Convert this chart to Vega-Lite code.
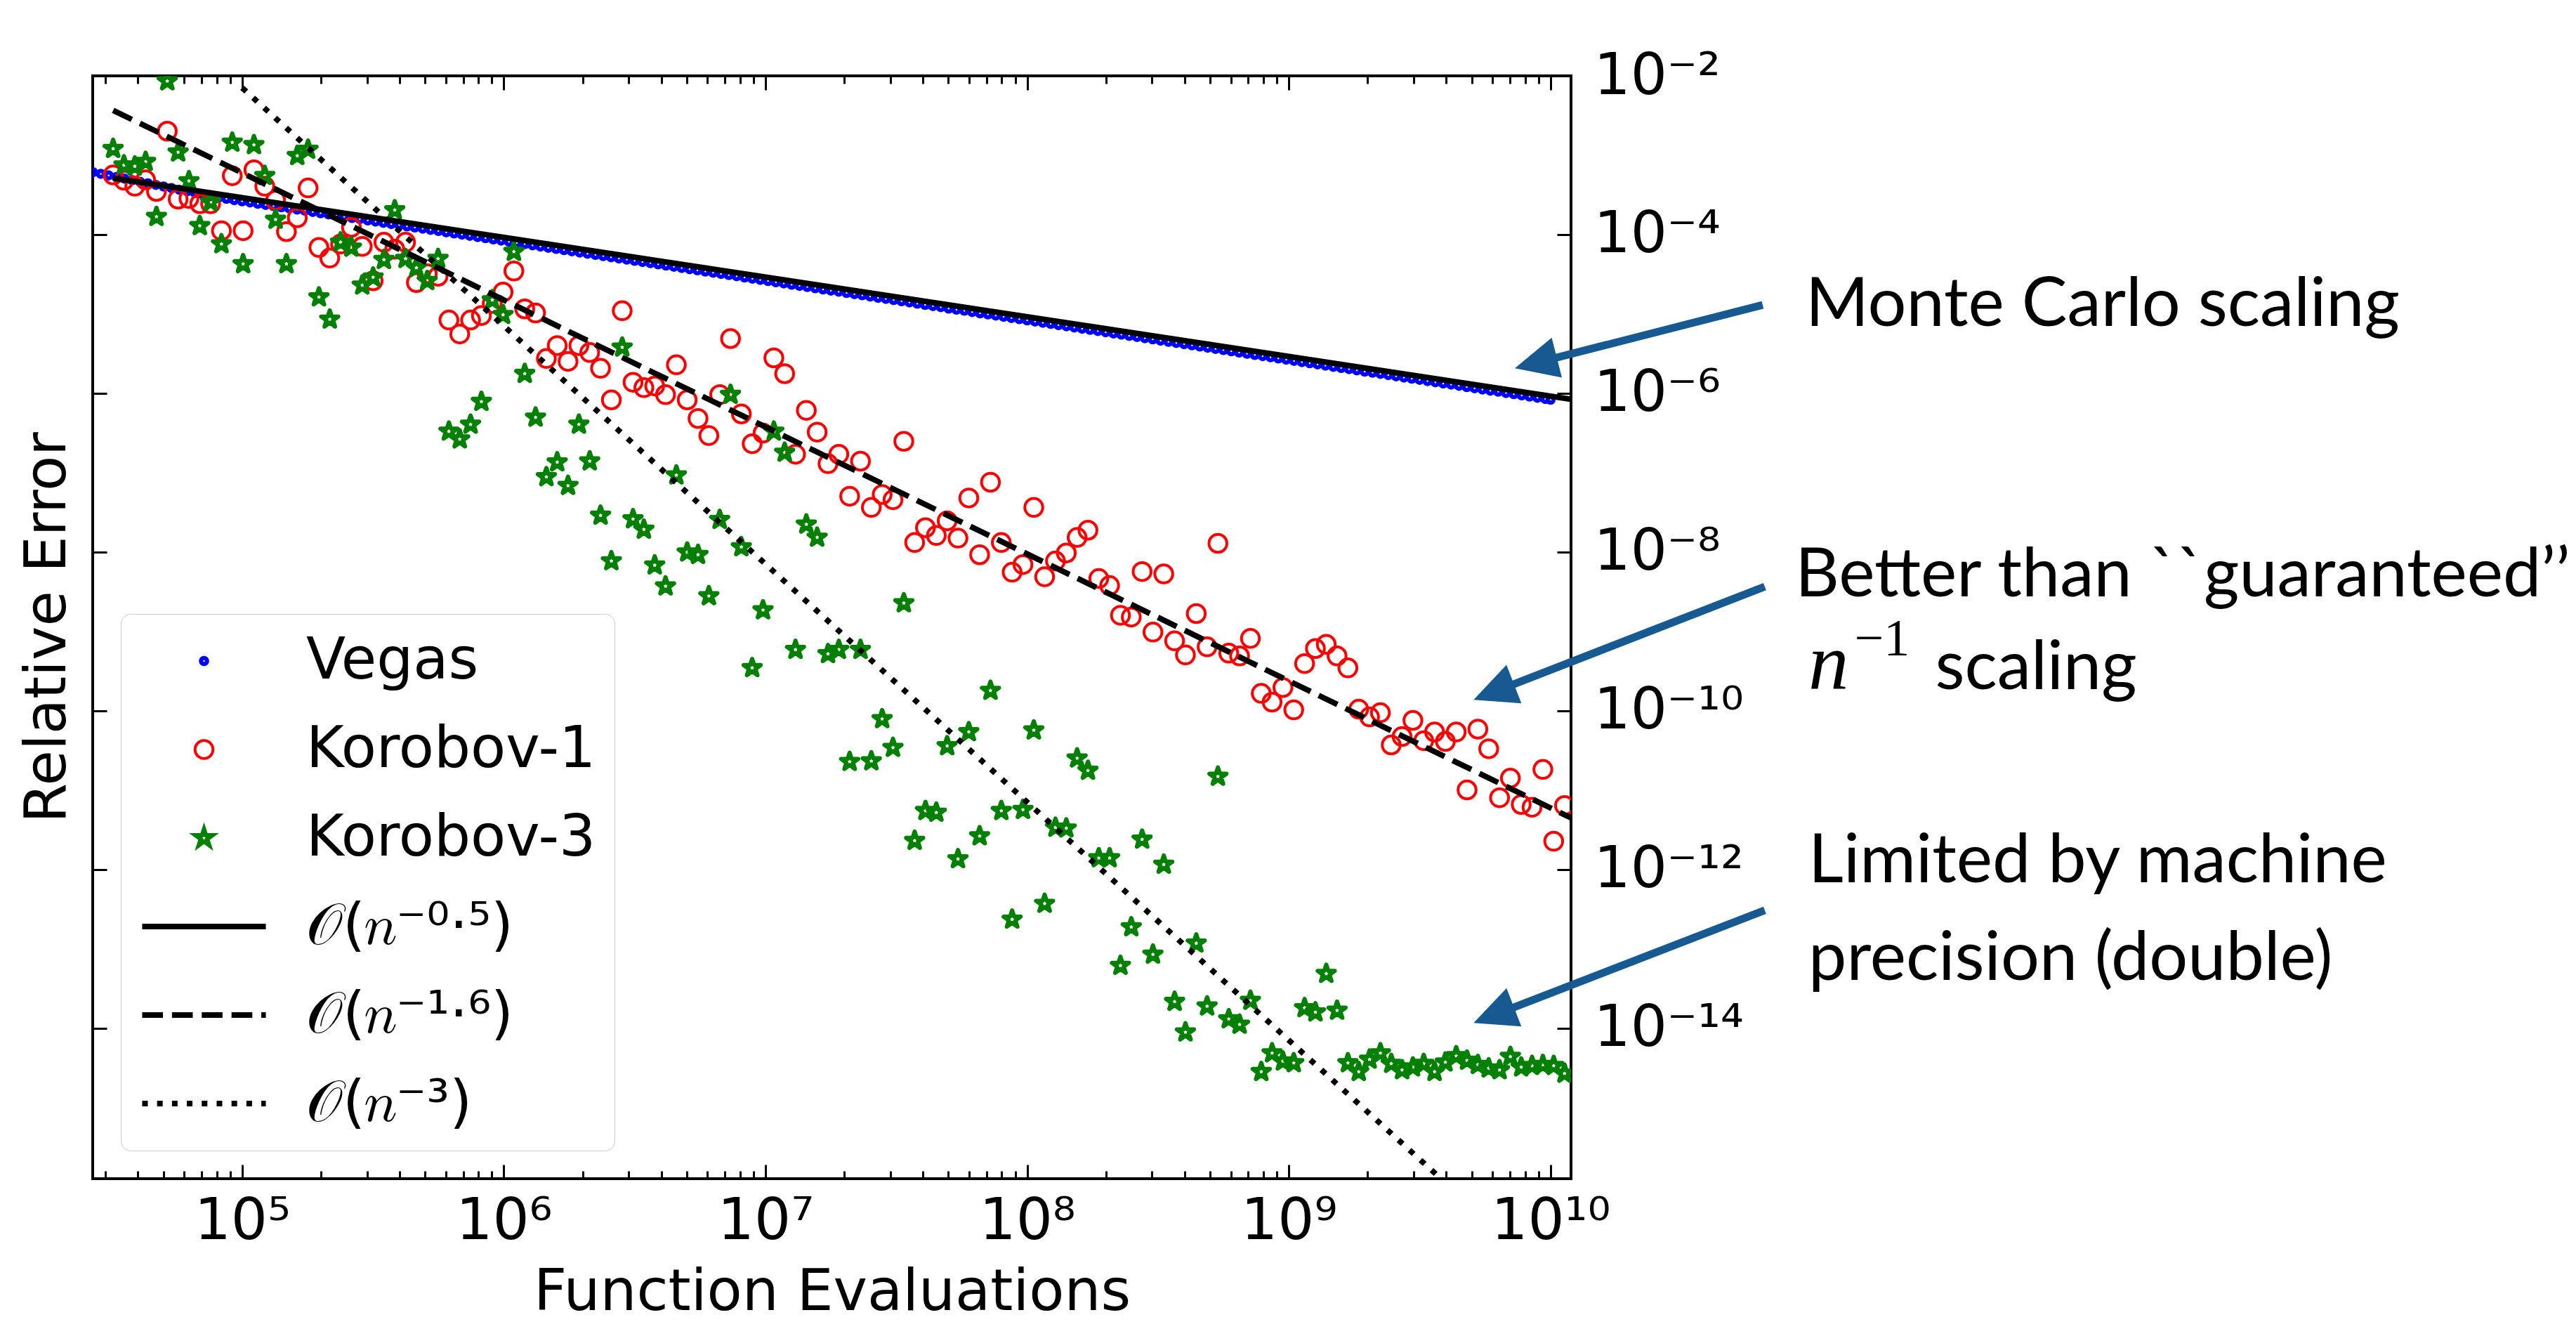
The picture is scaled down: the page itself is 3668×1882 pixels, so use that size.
{
"$schema":"https://vega.github.io/schema/vega-lite/v6.json",
"width":2105,"height":1570,
"autosize":{"type":"none"},
"padding":{"left":132,"top":108,"right":1431,"bottom":204},
"background":"white",
"config":{
 "view":{"stroke":"black","strokeWidth":4},
 "font":"DejaVu Sans",
 "axis":{"domain":false,"grid":false,"tickColor":"black","tickWidth":3,"labelFont":"DejaVu Sans","labelFontSize":82,"labelColor":"black","labelLimit":2000,"titleFont":"DejaVu Sans","titleFontSize":82,"titleFontWeight":"normal","titleColor":"black","labelFlush":false,"labelOverlap":false,"labelBound":false,"zindex":1},
 "legend":{"orient":"bottom-left","offset":40,"labelFont":"DejaVu Sans","labelFontSize":82,"labelColor":"black","padding":26,"rowPadding":44,"labelOffset":53,"clipHeight":82,"strokeColor":"#cccccc","fillColor":"rgba(255,255,255,0.8)","cornerRadius":14,"symbolOpacity":1,"labelLimit":3000}
},
"resolve":{"axis":{"x":"independent","y":"independent"}},
"datasets":{
"pts":[
{"s":"Vegas","n":26920,"e":6.11e-4},{"s":"Vegas","n":28840,"e":5.83e-4},{"s":"Vegas","n":30900,"e":5.57e-4},{"s":"Vegas","n":33110,"e":5.32e-4},{"s":"Vegas","n":35480,"e":5.08e-4},{"s":"Vegas","n":38020,"e":4.85e-4},{"s":"Vegas","n":40740,"e":4.63e-4},{"s":"Vegas","n":43650,"e":4.43e-4},{"s":"Vegas","n":46770,"e":4.23e-4},{"s":"Vegas","n":50120,"e":4.03e-4},
{"s":"Vegas","n":53700,"e":3.85e-4},{"s":"Vegas","n":57540,"e":3.67e-4},{"s":"Vegas","n":61660,"e":3.51e-4},{"s":"Vegas","n":66070,"e":3.35e-4},{"s":"Vegas","n":70790,"e":3.2e-4},{"s":"Vegas","n":75860,"e":3.05e-4},{"s":"Vegas","n":81280,"e":2.92e-4},{"s":"Vegas","n":87100,"e":2.82e-4},{"s":"Vegas","n":93330,"e":2.72e-4},{"s":"Vegas","n":1.0e5,"e":2.63e-4},
{"s":"Vegas","n":1.072e5,"e":2.54e-4},{"s":"Vegas","n":1.148e5,"e":2.45e-4},{"s":"Vegas","n":1.23e5,"e":2.37e-4},{"s":"Vegas","n":1.318e5,"e":2.29e-4},{"s":"Vegas","n":1.413e5,"e":2.21e-4},{"s":"Vegas","n":1.514e5,"e":2.14e-4},{"s":"Vegas","n":1.622e5,"e":2.07e-4},{"s":"Vegas","n":1.738e5,"e":2.0e-4},{"s":"Vegas","n":1.862e5,"e":1.93e-4},{"s":"Vegas","n":1.995e5,"e":1.86e-4},
{"s":"Vegas","n":2.138e5,"e":1.8e-4},{"s":"Vegas","n":2.291e5,"e":1.74e-4},{"s":"Vegas","n":2.455e5,"e":1.68e-4},{"s":"Vegas","n":2.63e5,"e":1.62e-4},{"s":"Vegas","n":2.818e5,"e":1.57e-4},{"s":"Vegas","n":3.02e5,"e":1.51e-4},{"s":"Vegas","n":3.236e5,"e":1.46e-4},{"s":"Vegas","n":3.467e5,"e":1.41e-4},{"s":"Vegas","n":3.715e5,"e":1.36e-4},{"s":"Vegas","n":3.981e5,"e":1.32e-4},
{"s":"Vegas","n":4.266e5,"e":1.27e-4},{"s":"Vegas","n":4.571e5,"e":1.23e-4},{"s":"Vegas","n":4.898e5,"e":1.19e-4},{"s":"Vegas","n":5.248e5,"e":1.15e-4},{"s":"Vegas","n":5.623e5,"e":1.11e-4},{"s":"Vegas","n":6.026e5,"e":1.07e-4},{"s":"Vegas","n":6.457e5,"e":1.035e-4},{"s":"Vegas","n":6.918e5,"e":1.0e-4},{"s":"Vegas","n":7.413e5,"e":9.66e-5},{"s":"Vegas","n":7.943e5,"e":9.33e-5},
{"s":"Vegas","n":8.511e5,"e":9.02e-5},{"s":"Vegas","n":9.12e5,"e":8.71e-5},{"s":"Vegas","n":9.772e5,"e":8.41e-5},{"s":"Vegas","n":1.047e6,"e":8.13e-5},{"s":"Vegas","n":1.122e6,"e":7.85e-5},{"s":"Vegas","n":1.202e6,"e":7.59e-5},{"s":"Vegas","n":1.288e6,"e":7.33e-5},{"s":"Vegas","n":1.38e6,"e":7.08e-5},{"s":"Vegas","n":1.479e6,"e":6.84e-5},{"s":"Vegas","n":1.585e6,"e":6.61e-5},
{"s":"Vegas","n":1.698e6,"e":6.38e-5},{"s":"Vegas","n":1.82e6,"e":6.17e-5},{"s":"Vegas","n":1.95e6,"e":5.96e-5},{"s":"Vegas","n":2.089e6,"e":5.75e-5},{"s":"Vegas","n":2.239e6,"e":5.56e-5},{"s":"Vegas","n":2.399e6,"e":5.37e-5},{"s":"Vegas","n":2.57e6,"e":5.19e-5},{"s":"Vegas","n":2.754e6,"e":5.01e-5},{"s":"Vegas","n":2.951e6,"e":4.84e-5},{"s":"Vegas","n":3.162e6,"e":4.68e-5},
{"s":"Vegas","n":3.388e6,"e":4.52e-5},{"s":"Vegas","n":3.631e6,"e":4.37e-5},{"s":"Vegas","n":3.89e6,"e":4.22e-5},{"s":"Vegas","n":4.169e6,"e":4.07e-5},{"s":"Vegas","n":4.467e6,"e":3.94e-5},{"s":"Vegas","n":4.786e6,"e":3.8e-5},{"s":"Vegas","n":5.129e6,"e":3.67e-5},{"s":"Vegas","n":5.495e6,"e":3.55e-5},{"s":"Vegas","n":5.888e6,"e":3.43e-5},{"s":"Vegas","n":6.31e6,"e":3.31e-5},
{"s":"Vegas","n":6.761e6,"e":3.2e-5},{"s":"Vegas","n":7.244e6,"e":3.09e-5},{"s":"Vegas","n":7.762e6,"e":2.99e-5},{"s":"Vegas","n":8.318e6,"e":2.88e-5},{"s":"Vegas","n":8.913e6,"e":2.79e-5},{"s":"Vegas","n":9.55e6,"e":2.69e-5},{"s":"Vegas","n":1.023e7,"e":2.6e-5},{"s":"Vegas","n":1.096e7,"e":2.51e-5},{"s":"Vegas","n":1.175e7,"e":2.43e-5},{"s":"Vegas","n":1.259e7,"e":2.34e-5},
{"s":"Vegas","n":1.349e7,"e":2.26e-5},{"s":"Vegas","n":1.445e7,"e":2.19e-5},{"s":"Vegas","n":1.549e7,"e":2.11e-5},{"s":"Vegas","n":1.66e7,"e":2.04e-5},{"s":"Vegas","n":1.778e7,"e":1.97e-5},{"s":"Vegas","n":1.905e7,"e":1.91e-5},{"s":"Vegas","n":2.042e7,"e":1.84e-5},{"s":"Vegas","n":2.188e7,"e":1.78e-5},{"s":"Vegas","n":2.344e7,"e":1.72e-5},{"s":"Vegas","n":2.512e7,"e":1.66e-5},
{"s":"Vegas","n":2.692e7,"e":1.6e-5},{"s":"Vegas","n":2.884e7,"e":1.55e-5},{"s":"Vegas","n":3.09e7,"e":1.5e-5},{"s":"Vegas","n":3.311e7,"e":1.45e-5},{"s":"Vegas","n":3.548e7,"e":1.4e-5},{"s":"Vegas","n":3.802e7,"e":1.35e-5},{"s":"Vegas","n":4.074e7,"e":1.3e-5},{"s":"Vegas","n":4.365e7,"e":1.26e-5},{"s":"Vegas","n":4.677e7,"e":1.22e-5},{"s":"Vegas","n":5.012e7,"e":1.17e-5},
{"s":"Vegas","n":5.37e7,"e":1.135e-5},{"s":"Vegas","n":5.754e7,"e":1.1e-5},{"s":"Vegas","n":6.166e7,"e":1.06e-5},{"s":"Vegas","n":6.607e7,"e":1.02e-5},{"s":"Vegas","n":7.079e7,"e":9.89e-6},{"s":"Vegas","n":7.586e7,"e":9.55e-6},{"s":"Vegas","n":8.128e7,"e":9.23e-6},{"s":"Vegas","n":8.71e7,"e":8.91e-6},{"s":"Vegas","n":9.333e7,"e":8.61e-6},{"s":"Vegas","n":1.0e8,"e":8.32e-6},
{"s":"Vegas","n":1.072e8,"e":8.04e-6},{"s":"Vegas","n":1.148e8,"e":7.76e-6},{"s":"Vegas","n":1.23e8,"e":7.5e-6},{"s":"Vegas","n":1.318e8,"e":7.24e-6},{"s":"Vegas","n":1.413e8,"e":7.0e-6},{"s":"Vegas","n":1.514e8,"e":6.76e-6},{"s":"Vegas","n":1.622e8,"e":6.53e-6},{"s":"Vegas","n":1.738e8,"e":6.31e-6},{"s":"Vegas","n":1.862e8,"e":6.1e-6},{"s":"Vegas","n":1.995e8,"e":5.89e-6},
{"s":"Vegas","n":2.138e8,"e":5.69e-6},{"s":"Vegas","n":2.291e8,"e":5.5e-6},{"s":"Vegas","n":2.455e8,"e":5.31e-6},{"s":"Vegas","n":2.63e8,"e":5.13e-6},{"s":"Vegas","n":2.818e8,"e":4.95e-6},{"s":"Vegas","n":3.02e8,"e":4.79e-6},{"s":"Vegas","n":3.236e8,"e":4.62e-6},{"s":"Vegas","n":3.467e8,"e":4.47e-6},{"s":"Vegas","n":3.715e8,"e":4.32e-6},{"s":"Vegas","n":3.981e8,"e":4.17e-6},
{"s":"Vegas","n":4.266e8,"e":4.03e-6},{"s":"Vegas","n":4.571e8,"e":3.89e-6},{"s":"Vegas","n":4.898e8,"e":3.76e-6},{"s":"Vegas","n":5.248e8,"e":3.63e-6},{"s":"Vegas","n":5.623e8,"e":3.51e-6},{"s":"Vegas","n":6.026e8,"e":3.39e-6},{"s":"Vegas","n":6.457e8,"e":3.27e-6},{"s":"Vegas","n":6.918e8,"e":3.16e-6},{"s":"Vegas","n":7.413e8,"e":3.05e-6},{"s":"Vegas","n":7.943e8,"e":2.95e-6},
{"s":"Vegas","n":8.511e8,"e":2.85e-6},{"s":"Vegas","n":9.12e8,"e":2.75e-6},{"s":"Vegas","n":9.772e8,"e":2.66e-6},{"s":"Vegas","n":1.047e9,"e":2.57e-6},{"s":"Vegas","n":1.122e9,"e":2.48e-6},{"s":"Vegas","n":1.202e9,"e":2.4e-6},{"s":"Vegas","n":1.288e9,"e":2.32e-6},{"s":"Vegas","n":1.38e9,"e":2.24e-6},{"s":"Vegas","n":1.479e9,"e":2.16e-6},{"s":"Vegas","n":1.585e9,"e":2.09e-6},
{"s":"Vegas","n":1.698e9,"e":2.02e-6},{"s":"Vegas","n":1.82e9,"e":1.95e-6},{"s":"Vegas","n":1.95e9,"e":1.88e-6},{"s":"Vegas","n":2.089e9,"e":1.82e-6},{"s":"Vegas","n":2.239e9,"e":1.76e-6},{"s":"Vegas","n":2.399e9,"e":1.7e-6},{"s":"Vegas","n":2.57e9,"e":1.64e-6},{"s":"Vegas","n":2.754e9,"e":1.585e-6},{"s":"Vegas","n":2.951e9,"e":1.53e-6},{"s":"Vegas","n":3.162e9,"e":1.48e-6},
{"s":"Vegas","n":3.388e9,"e":1.43e-6},{"s":"Vegas","n":3.631e9,"e":1.38e-6},{"s":"Vegas","n":3.89e9,"e":1.33e-6},{"s":"Vegas","n":4.169e9,"e":1.29e-6},{"s":"Vegas","n":4.467e9,"e":1.245e-6},{"s":"Vegas","n":4.786e9,"e":1.2e-6},{"s":"Vegas","n":5.129e9,"e":1.16e-6},{"s":"Vegas","n":5.495e9,"e":1.12e-6},{"s":"Vegas","n":5.888e9,"e":1.08e-6},{"s":"Vegas","n":6.31e9,"e":1.05e-6},
{"s":"Vegas","n":6.761e9,"e":1.01e-6},{"s":"Vegas","n":7.244e9,"e":9.77e-7},{"s":"Vegas","n":7.762e9,"e":9.44e-7},{"s":"Vegas","n":8.318e9,"e":9.12e-7},{"s":"Vegas","n":8.913e9,"e":8.81e-7},{"s":"Vegas","n":9.55e9,"e":8.51e-7},{"s":"Vegas","n":1.0e10,"e":8.32e-7},
{"s":"Korobov-1","n":32140,"e":5.64e-4},{"s":"Korobov-1","n":35350,"e":4.84e-4},{"s":"Korobov-1","n":38890,"e":4.07e-4},{"s":"Korobov-1","n":42780,"e":4.89e-4},{"s":"Korobov-1","n":47060,"e":3.5e-4},{"s":"Korobov-1","n":51760,"e":2.01e-3},{"s":"Korobov-1","n":56940,"e":2.8e-4},{"s":"Korobov-1","n":62630,"e":2.85e-4},{"s":"Korobov-1","n":68900,"e":2.45e-4},{"s":"Korobov-1","n":75790,"e":2.45e-4},
{"s":"Korobov-1","n":83370,"e":1.12e-4},{"s":"Korobov-1","n":91700,"e":5.52e-4},{"s":"Korobov-1","n":1.0087e5,"e":1.12e-4},{"s":"Korobov-1","n":1.1096e5,"e":6.56e-4},{"s":"Korobov-1","n":1.2205e5,"e":4.07e-4},{"s":"Korobov-1","n":1.3426e5,"e":2.71e-4},{"s":"Korobov-1","n":1.4769e5,"e":1.09e-4},{"s":"Korobov-1","n":1.6246e5,"e":1.63e-4},{"s":"Korobov-1","n":1.787e5,"e":3.87e-4},{"s":"Korobov-1","n":1.9657e5,"e":6.89e-5},
{"s":"Korobov-1","n":2.1623e5,"e":5.07e-5},{"s":"Korobov-1","n":2.3785e5,"e":7.62e-5},{"s":"Korobov-1","n":2.6164e5,"e":1.24e-4},{"s":"Korobov-1","n":2.878e5,"e":7.1e-5},{"s":"Korobov-1","n":3.1658e5,"e":2.62e-5},{"s":"Korobov-1","n":3.4824e5,"e":8.02e-5},{"s":"Korobov-1","n":3.8306e5,"e":6.55e-5},{"s":"Korobov-1","n":4.2137e5,"e":8.02e-5},{"s":"Korobov-1","n":4.6351e5,"e":2.49e-5},{"s":"Korobov-1","n":5.0986e5,"e":3.21e-5},
{"s":"Korobov-1","n":5.6084e5,"e":2.99e-5},{"s":"Korobov-1","n":6.1693e5,"e":8.39e-6},{"s":"Korobov-1","n":6.7862e5,"e":5.6e-6},{"s":"Korobov-1","n":7.4648e5,"e":8.39e-6},{"s":"Korobov-1","n":8.2113e5,"e":9.57e-6},{"s":"Korobov-1","n":9.0324e5,"e":1.36e-5},{"s":"Korobov-1","n":9.9357e5,"e":1.89e-5},{"s":"Korobov-1","n":1.0929e6,"e":3.48e-5},{"s":"Korobov-1","n":1.2022e6,"e":1.16e-5},{"s":"Korobov-1","n":1.3224e6,"e":1.03e-5},
{"s":"Korobov-1","n":1.4547e6,"e":2.75e-6},{"s":"Korobov-1","n":1.6001e6,"e":4.0e-6},{"s":"Korobov-1","n":1.7601e6,"e":2.53e-6},{"s":"Korobov-1","n":1.9362e6,"e":4.0e-6},{"s":"Korobov-1","n":2.1298e6,"e":3.27e-6},{"s":"Korobov-1","n":2.3428e6,"e":2.07e-6},{"s":"Korobov-1","n":2.5771e6,"e":8.28e-7},{"s":"Korobov-1","n":2.8348e6,"e":1.1e-5},{"s":"Korobov-1","n":3.1182e6,"e":1.38e-6},{"s":"Korobov-1","n":3.4301e6,"e":1.18e-6},
{"s":"Korobov-1","n":3.7731e6,"e":1.24e-6},{"s":"Korobov-1","n":4.1504e6,"e":9.64e-7},{"s":"Korobov-1","n":4.5654e6,"e":2.29e-6},{"s":"Korobov-1","n":5.022e6,"e":8.28e-7},{"s":"Korobov-1","n":5.5242e6,"e":4.83e-7},{"s":"Korobov-1","n":6.0766e6,"e":2.94e-7},{"s":"Korobov-1","n":6.6842e6,"e":9.64e-7},{"s":"Korobov-1","n":7.3527e6,"e":4.9e-6},{"s":"Korobov-1","n":8.0879e6,"e":5.51e-7},{"s":"Korobov-1","n":8.8967e6,"e":2.32e-7},
{"s":"Korobov-1","n":9.7864e6,"e":3.16e-7},{"s":"Korobov-1","n":1.0765e7,"e":2.8e-6},{"s":"Korobov-1","n":1.1841e7,"e":1.77e-6},{"s":"Korobov-1","n":1.3025e7,"e":1.71e-7},{"s":"Korobov-1","n":1.4328e7,"e":6.11e-7},{"s":"Korobov-1","n":1.5761e7,"e":3.25e-7},{"s":"Korobov-1","n":1.7337e7,"e":1.3e-7},{"s":"Korobov-1","n":1.907e7,"e":1.71e-7},{"s":"Korobov-1","n":2.0977e7,"e":5.06e-8},{"s":"Korobov-1","n":2.3075e7,"e":1.4e-7},
{"s":"Korobov-1","n":2.5383e7,"e":3.66e-8},{"s":"Korobov-1","n":2.7921e7,"e":5.32e-8},{"s":"Korobov-1","n":3.0713e7,"e":4.57e-8},{"s":"Korobov-1","n":3.3784e7,"e":2.49e-7},{"s":"Korobov-1","n":3.7163e7,"e":1.32e-8},{"s":"Korobov-1","n":4.0879e7,"e":2.03e-8},{"s":"Korobov-1","n":4.4967e7,"e":1.62e-8},{"s":"Korobov-1","n":4.9464e7,"e":2.48e-8},{"s":"Korobov-1","n":5.441e7,"e":1.5e-8},{"s":"Korobov-1","n":5.9851e7,"e":4.81e-8},
{"s":"Korobov-1","n":6.5836e7,"e":9.27e-9},{"s":"Korobov-1","n":7.242e7,"e":7.6e-8},{"s":"Korobov-1","n":7.9662e7,"e":1.32e-8},{"s":"Korobov-1","n":8.7628e7,"e":5.58e-9},{"s":"Korobov-1","n":9.6391e7,"e":6.98e-9},{"s":"Korobov-1","n":1.0603e8,"e":3.66e-8},{"s":"Korobov-1","n":1.1663e8,"e":4.89e-9},{"s":"Korobov-1","n":1.283e8,"e":7.73e-9},{"s":"Korobov-1","n":1.4113e8,"e":9.75e-9},{"s":"Korobov-1","n":1.5524e8,"e":1.53e-8},
{"s":"Korobov-1","n":1.7076e8,"e":1.89e-8},{"s":"Korobov-1","n":1.8784e8,"e":4.65e-9},{"s":"Korobov-1","n":2.0662e8,"e":3.79e-9},{"s":"Korobov-1","n":2.2728e8,"e":1.6e-9},{"s":"Korobov-1","n":2.5001e8,"e":1.52e-9},{"s":"Korobov-1","n":2.7501e8,"e":5.69e-9},{"s":"Korobov-1","n":3.0251e8,"e":9.82e-10},{"s":"Korobov-1","n":3.3276e8,"e":5.31e-9},{"s":"Korobov-1","n":3.6604e8,"e":7.62e-10},{"s":"Korobov-1","n":4.0264e8,"e":5.07e-10},
{"s":"Korobov-1","n":4.4291e8,"e":1.68e-9},{"s":"Korobov-1","n":4.872e8,"e":6.41e-10},{"s":"Korobov-1","n":5.3592e8,"e":1.29e-8},{"s":"Korobov-1","n":5.8951e8,"e":5.33e-10},{"s":"Korobov-1","n":6.4846e8,"e":4.92e-10},{"s":"Korobov-1","n":7.1331e8,"e":8.18e-10},{"s":"Korobov-1","n":7.8464e8,"e":1.66e-10},{"s":"Korobov-1","n":8.631e8,"e":1.29e-10},{"s":"Korobov-1","n":9.4941e8,"e":1.97e-10},{"s":"Korobov-1","n":1.0444e9,"e":1.03e-10},
{"s":"Korobov-1","n":1.1488e9,"e":3.94e-10},{"s":"Korobov-1","n":1.2637e9,"e":6.1e-10},{"s":"Korobov-1","n":1.39e9,"e":6.89e-10},{"s":"Korobov-1","n":1.529e9,"e":4.92e-10},{"s":"Korobov-1","n":1.6819e9,"e":3.48e-10},{"s":"Korobov-1","n":1.8501e9,"e":1.05e-10},{"s":"Korobov-1","n":2.0351e9,"e":8.39e-11},{"s":"Korobov-1","n":2.2386e9,"e":9.48e-11},{"s":"Korobov-1","n":2.4625e9,"e":3.72e-11},{"s":"Korobov-1","n":2.7088e9,"e":4.75e-11},
{"s":"Korobov-1","n":2.9796e9,"e":7.59e-11},{"s":"Korobov-1","n":3.2776e9,"e":4.21e-11},{"s":"Korobov-1","n":3.6054e9,"e":5.42e-11},{"s":"Korobov-1","n":3.9659e9,"e":4.12e-11},{"s":"Korobov-1","n":4.3625e9,"e":5.42e-11},{"s":"Korobov-1","n":4.7988e9,"e":1.01e-11},{"s":"Korobov-1","n":5.2786e9,"e":5.89e-11},{"s":"Korobov-1","n":5.8065e9,"e":3.33e-11},{"s":"Korobov-1","n":6.3871e9,"e":8.04e-12},{"s":"Korobov-1","n":7.0258e9,"e":1.42e-11},
{"s":"Korobov-1","n":7.7284e9,"e":6.62e-12},{"s":"Korobov-1","n":8.5013e9,"e":6.11e-12},{"s":"Korobov-1","n":9.3514e9,"e":1.83e-11},{"s":"Korobov-1","n":1.0287e10,"e":2.28e-12},{"s":"Korobov-1","n":1.1315e10,"e":6.43e-12},
{"s":"Korobov-3","n":32140,"e":1.21e-3},{"s":"Korobov-3","n":35350,"e":7.5e-4},{"s":"Korobov-3","n":38890,"e":7.26e-4},{"s":"Korobov-3","n":42780,"e":8.3e-4},{"s":"Korobov-3","n":47060,"e":1.68e-4},{"s":"Korobov-3","n":51760,"e":8.59e-3},{"s":"Korobov-3","n":56940,"e":1.09e-3},{"s":"Korobov-3","n":62630,"e":4.74e-4},{"s":"Korobov-3","n":68900,"e":1.29e-4},{"s":"Korobov-3","n":75790,"e":2.58e-4},
{"s":"Korobov-3","n":83370,"e":7.62e-5},{"s":"Korobov-3","n":91700,"e":1.45e-3},{"s":"Korobov-3","n":1.0087e5,"e":4.27e-5},{"s":"Korobov-3","n":1.1096e5,"e":1.35e-3},{"s":"Korobov-3","n":1.2205e5,"e":5.52e-4},{"s":"Korobov-3","n":1.3426e5,"e":1.55e-4},{"s":"Korobov-3","n":1.4769e5,"e":4.27e-5},{"s":"Korobov-3","n":1.6246e5,"e":9.86e-4},{"s":"Korobov-3","n":1.787e5,"e":1.18e-3},{"s":"Korobov-3","n":1.9657e5,"e":1.63e-5},
{"s":"Korobov-3","n":2.1623e5,"e":8.57e-6},{"s":"Korobov-3","n":2.3785e5,"e":8.02e-5},{"s":"Korobov-3","n":2.6164e5,"e":6.89e-5},{"s":"Korobov-3","n":2.878e5,"e":2.3e-5},{"s":"Korobov-3","n":3.1658e5,"e":2.9e-5},{"s":"Korobov-3","n":3.4824e5,"e":4.82e-5},{"s":"Korobov-3","n":3.8306e5,"e":2.04e-4},{"s":"Korobov-3","n":4.2137e5,"e":4.97e-5},{"s":"Korobov-3","n":4.6351e5,"e":3.82e-5},{"s":"Korobov-3","n":5.0986e5,"e":2.62e-5},
{"s":"Korobov-3","n":5.6084e5,"e":4.97e-5},{"s":"Korobov-3","n":6.1693e5,"e":3.32e-7},{"s":"Korobov-3","n":6.7862e5,"e":2.65e-7},{"s":"Korobov-3","n":7.4648e5,"e":4.06e-7},{"s":"Korobov-3","n":8.2113e5,"e":7.87e-7},{"s":"Korobov-3","n":9.0324e5,"e":1.5e-5},{"s":"Korobov-3","n":9.9357e5,"e":9.77e-6},{"s":"Korobov-3","n":1.0929e6,"e":6.1e-5},{"s":"Korobov-3","n":1.2022e6,"e":1.77e-6},{"s":"Korobov-3","n":1.3224e6,"e":4.98e-7},
{"s":"Korobov-3","n":1.4547e6,"e":8.85e-8},{"s":"Korobov-3","n":1.6001e6,"e":1.36e-7},{"s":"Korobov-3","n":1.7601e6,"e":6.87e-8},{"s":"Korobov-3","n":1.9362e6,"e":4.06e-7},{"s":"Korobov-3","n":2.1298e6,"e":1.4e-7},{"s":"Korobov-3","n":2.3428e6,"e":2.9e-8},{"s":"Korobov-3","n":2.5771e6,"e":7.73e-9},{"s":"Korobov-3","n":2.8348e6,"e":3.8e-6},{"s":"Korobov-3","n":3.1182e6,"e":2.61e-8},{"s":"Korobov-3","n":3.4301e6,"e":1.93e-8},
{"s":"Korobov-3","n":3.7731e6,"e":6.84e-9},{"s":"Korobov-3","n":4.1504e6,"e":3.72e-9},{"s":"Korobov-3","n":4.5654e6,"e":9.31e-8},{"s":"Korobov-3","n":5.022e6,"e":9.95e-9},{"s":"Korobov-3","n":5.5242e6,"e":9.27e-9},{"s":"Korobov-3","n":6.0766e6,"e":2.8e-9},{"s":"Korobov-3","n":6.6842e6,"e":2.56e-8},{"s":"Korobov-3","n":7.3527e6,"e":9.64e-7},{"s":"Korobov-3","n":8.0879e6,"e":1.16e-8},{"s":"Korobov-3","n":8.8967e6,"e":3.48e-10},
{"s":"Korobov-3","n":9.7864e6,"e":1.86e-9},{"s":"Korobov-3","n":1.0765e7,"e":3.32e-7},{"s":"Korobov-3","n":1.1841e7,"e":1.8e-7},{"s":"Korobov-3","n":1.3025e7,"e":5.9e-10},{"s":"Korobov-3","n":1.4328e7,"e":2.24e-8},{"s":"Korobov-3","n":1.5761e7,"e":1.53e-8},{"s":"Korobov-3","n":1.7337e7,"e":5.22e-10},{"s":"Korobov-3","n":1.907e7,"e":5.9e-10},{"s":"Korobov-3","n":2.0977e7,"e":2.29e-11},{"s":"Korobov-3","n":2.3075e7,"e":5.9e-10},
{"s":"Korobov-3","n":2.5383e7,"e":2.33e-11},{"s":"Korobov-3","n":2.7921e7,"e":7.91e-11},{"s":"Korobov-3","n":3.0713e7,"e":3.44e-11},{"s":"Korobov-3","n":3.3784e7,"e":2.28e-9},{"s":"Korobov-3","n":3.7163e7,"e":2.32e-12},{"s":"Korobov-3","n":4.0879e7,"e":5.51e-12},{"s":"Korobov-3","n":4.4967e7,"e":5.24e-12},{"s":"Korobov-3","n":4.9464e7,"e":3.61e-11},{"s":"Korobov-3","n":5.441e7,"e":1.36e-12},{"s":"Korobov-3","n":5.9851e7,"e":5.42e-11},
{"s":"Korobov-3","n":6.5836e7,"e":2.65e-12},{"s":"Korobov-3","n":7.242e7,"e":1.8e-10},{"s":"Korobov-3","n":7.9662e7,"e":5.51e-12},{"s":"Korobov-3","n":8.7628e7,"e":2.36e-13},{"s":"Korobov-3","n":9.6391e7,"e":5.69e-12},{"s":"Korobov-3","n":1.0603e8,"e":5.7e-11},{"s":"Korobov-3","n":1.1663e8,"e":3.73e-13},{"s":"Korobov-3","n":1.283e8,"e":3.39e-12},{"s":"Korobov-3","n":1.4113e8,"e":3.32e-12},{"s":"Korobov-3","n":1.5524e8,"e":2.53e-11},
{"s":"Korobov-3","n":1.7076e8,"e":1.77e-11},{"s":"Korobov-3","n":1.8784e8,"e":1.4e-12},{"s":"Korobov-3","n":2.0662e8,"e":1.4e-12},{"s":"Korobov-3","n":2.2728e8,"e":6.18e-14},{"s":"Korobov-3","n":2.5001e8,"e":1.89e-13},{"s":"Korobov-3","n":2.7501e8,"e":2.4e-12},{"s":"Korobov-3","n":3.0251e8,"e":8.55e-14},{"s":"Korobov-3","n":3.3276e8,"e":1.16e-12},{"s":"Korobov-3","n":3.6604e8,"e":2.17e-14},{"s":"Korobov-3","n":4.0264e8,"e":8.95e-15},
{"s":"Korobov-3","n":4.4291e8,"e":1.18e-13},{"s":"Korobov-3","n":4.872e8,"e":1.9e-14},{"s":"Korobov-3","n":5.3592e8,"e":1.49e-11},{"s":"Korobov-3","n":5.8951e8,"e":1.31e-14},{"s":"Korobov-3","n":6.4846e8,"e":1.12e-14},{"s":"Korobov-3","n":7.1331e8,"e":2.24e-14},{"s":"Korobov-3","n":7.8464e8,"e":2.84e-15},{"s":"Korobov-3","n":8.631e8,"e":4.88e-15},{"s":"Korobov-3","n":9.4941e8,"e":3.85e-15},{"s":"Korobov-3","n":1.0444e9,"e":3.66e-15},
{"s":"Korobov-3","n":1.1488e9,"e":1.81e-14},{"s":"Korobov-3","n":1.2637e9,"e":1.6e-14},{"s":"Korobov-3","n":1.39e9,"e":4.89e-14},{"s":"Korobov-3","n":1.529e9,"e":1.68e-14},{"s":"Korobov-3","n":1.6819e9,"e":3.66e-15},{"s":"Korobov-3","n":1.8501e9,"e":2.84e-15},{"s":"Korobov-3","n":2.0351e9,"e":4.06e-15},{"s":"Korobov-3","n":2.2386e9,"e":4.88e-15},{"s":"Korobov-3","n":2.4625e9,"e":3.59e-15},{"s":"Korobov-3","n":2.7088e9,"e":2.99e-15},
{"s":"Korobov-3","n":2.9796e9,"e":3.24e-15},{"s":"Korobov-3","n":3.2776e9,"e":3.59e-15},{"s":"Korobov-3","n":3.6054e9,"e":2.84e-15},{"s":"Korobov-3","n":3.9659e9,"e":3.74e-15},{"s":"Korobov-3","n":4.3625e9,"e":4.49e-15},{"s":"Korobov-3","n":4.7988e9,"e":3.94e-15},{"s":"Korobov-3","n":5.2786e9,"e":3.48e-15},{"s":"Korobov-3","n":5.8065e9,"e":3.15e-15},{"s":"Korobov-3","n":6.3871e9,"e":2.99e-15},{"s":"Korobov-3","n":7.0258e9,"e":4.4e-15},
{"s":"Korobov-3","n":7.7284e9,"e":3.24e-15},{"s":"Korobov-3","n":8.5013e9,"e":3.38e-15},{"s":"Korobov-3","n":9.3514e9,"e":3.48e-15},{"s":"Korobov-3","n":1.0287e10,"e":3.38e-15},{"s":"Korobov-3","n":1.1315e10,"e":2.7e-15}
],
"lines":[
{"s":"𝒪(𝑛⁻⁰·⁵)","n":32140,"e":5.15e-4},{"s":"𝒪(𝑛⁻⁰·⁵)","n":1.2e10,"e":8.42e-7},
{"s":"𝒪(𝑛⁻¹·⁶)","n":32140,"e":3.68e-3},{"s":"𝒪(𝑛⁻¹·⁶)","n":1.2e10,"e":4.47e-12},
{"s":"𝒪(𝑛⁻³)","n":1.0e5,"e":7.08e-3},{"s":"𝒪(𝑛⁻³)","n":1.2e10,"e":4.1e-18}
],
"arrows":[
{"n1":6.47e10,"e1":1.3e-5,"n2":8.79e9,"e2":2.42e-6},
{"n1":6.59e10,"e1":3.68e-9,"n2":6.07e9,"e2":1.73e-10},
{"n1":6.59e10,"e1":3.07e-13,"n2":6.07e9,"e2":1.47e-14}
],
"heads":[
{"n":8.79e9,"e":2.42e-6,"a":345.7},
{"n":6.07e9,"e":1.73e-10,"a":338.7},
{"n":6.07e9,"e":1.47e-14,"a":338.9}
],
"txt":[
{"t":"Monte Carlo scaling","n":9.44e10,"e":7.08e-6},
{"t":"Better than ``guaranteed’’","n":8.61e10,"e":2.77e-9},
{"t":"scaling","n":2.95e11,"e":1.88e-10},
{"t":"Limited by machine","n":9.68e10,"e":6.93e-13},
{"t":"precision (double)","n":9.68e10,"e":4.08e-14}
],
"nn":[{"t":"n","n":9.68e10,"e":1.88e-10}],
"sup":[{"t":"−1","n":1.45e11,"e":5.0e-10}]
},
"layer":[
{
 "data":{"name":"pts"},
 "mark":{"type":"point","filled":false,"opacity":1,"clip":true,"strokeJoin":"round"},
 "encoding":{
  "x":{"field":"n","type":"quantitative","scale":{"type":"log","domain":[26853,1.198e10],"nice":false},
   "axis":{"orient":"bottom","values":[1e5,1e6,1e7,1e8,1e9,1e10],"tickSize":-20,"labelPadding":40,"labelBaseline":"top",
    "labelExpr":"datum.value < 3e5 ? '10⁵' : datum.value < 3e6 ? '10⁶' : datum.value < 3e7 ? '10⁷' : datum.value < 3e8 ? '10⁸' : datum.value < 3e9 ? '10⁹' : '10¹⁰'",
    "title":"Function Evaluations","titlePadding":20}},
  "y":{"field":"e","type":"quantitative","scale":{"type":"log","domain":[1.276e-16,0.01],"nice":false},
   "axis":{"orient":"right","values":[0.01,1e-4,1e-6,1e-8,1e-10,1e-12,1e-14],"tickSize":-20,"labelPadding":52,"labelAlign":"left","labelBaseline":"middle",
    "labelExpr":"datum.value > 3e-3 ? '10⁻²' : datum.value > 3e-5 ? '10⁻⁴' : datum.value > 3e-7 ? '10⁻⁶' : datum.value > 3e-9 ? '10⁻⁸' : datum.value > 3e-11 ? '10⁻¹⁰' : datum.value > 3e-13 ? '10⁻¹²' : '10⁻¹⁴'",
    "title":null}},
  "color":{"field":"s","type":"nominal",
   "scale":{"domain":["Vegas","Korobov-1","Korobov-3","𝒪(𝑛⁻⁰·⁵)","𝒪(𝑛⁻¹·⁶)","𝒪(𝑛⁻³)"],"range":["#0000ff","#ff0000","#008000","#000000","#000000","#000000"]},
   "legend":{"title":null,"encode":{"legend":{"update":{"strokeWidth":{"value":3}}},"symbols":{"update":{"fill":{"value":"transparent"}}}}}},
  "shape":{"field":"s","type":"nominal",
   "scale":{"domain":["Vegas","Korobov-1","Korobov-3","𝒪(𝑛⁻⁰·⁵)","𝒪(𝑛⁻¹·⁶)","𝒪(𝑛⁻³)"],"range":["circle","circle","M0,-1L0.2245,-0.309L0.951,-0.309L0.363,0.118L0.588,0.809L0,0.382L-0.588,0.809L-0.363,0.118L-0.951,-0.309L-0.2245,-0.309Z","M-1,0H1","M-1,0H1","M-1,0H1"]},
   "legend":{"title":null}},
  "size":{"field":"s","type":"nominal",
   "scale":{"type":"ordinal","domain":["Vegas","Korobov-1","Korobov-3","𝒪(𝑛⁻⁰·⁵)","𝒪(𝑛⁻¹·⁶)","𝒪(𝑛⁻³)"],"range":[72,650,650,31000,31000,31000]},
   "legend":{"title":null}},
  "strokeWidth":{"field":"s","type":"nominal",
   "scale":{"type":"ordinal","domain":["Vegas","Korobov-1","Korobov-3","𝒪(𝑛⁻⁰·⁵)","𝒪(𝑛⁻¹·⁶)","𝒪(𝑛⁻³)"],"range":[6,4,6,8,8,8]},
   "legend":{"title":null}}
 }
},
{
 "data":{"name":"lines"},
 "mark":{"type":"line","clip":true},
 "encoding":{
  "x":{"field":"n","type":"quantitative","scale":{"type":"log","domain":[26853,1.198e10],"nice":false},
   "axis":{"orient":"top","values":[1e5,1e6,1e7,1e8,1e9,1e10],"tickSize":-20,"labels":false,"title":null}},
  "y":{"field":"e","type":"quantitative","scale":{"type":"log","domain":[1.276e-16,0.01],"nice":false},
   "axis":{"orient":"left","values":[0.01,1e-4,1e-6,1e-8,1e-10,1e-12,1e-14],"tickSize":-20,"labels":false,"title":"Relative Error","titlePadding":21}},
  "color":{"field":"s","type":"nominal",
   "scale":{"domain":["Vegas","Korobov-1","Korobov-3","𝒪(𝑛⁻⁰·⁵)","𝒪(𝑛⁻¹·⁶)","𝒪(𝑛⁻³)"],"range":["#0000ff","#ff0000","#008000","#000000","#000000","#000000"]},
   "legend":{"title":null}},
  "strokeDash":{"field":"s","type":"nominal",
   "scale":{"domain":["Vegas","Korobov-1","Korobov-3","𝒪(𝑛⁻⁰·⁵)","𝒪(𝑛⁻¹·⁶)","𝒪(𝑛⁻³)"],"range":[[1,0],[1,0],[1,0],[1,0],[29.6,12.8],[8,13.2]]},
   "legend":{"title":null}},
  "strokeWidth":{"field":"s","type":"nominal",
   "scale":{"type":"ordinal","domain":["Vegas","Korobov-1","Korobov-3","𝒪(𝑛⁻⁰·⁵)","𝒪(𝑛⁻¹·⁶)","𝒪(𝑛⁻³)"],"range":[6,4,6,8,8,8]},
   "legend":{"title":null}}
 }
},
{
 "data":{"name":"arrows"},
 "mark":{"type":"rule","color":"#165a91","strokeWidth":11,"clip":false},
 "encoding":{
  "x":{"field":"n1","type":"quantitative","scale":{"type":"log","domain":[26853,1.198e10],"nice":false},
   "axis":{"orient":"bottom","values":[3e4,4e4,5e4,6e4,7e4,8e4,9e4,2e5,3e5,4e5,5e5,6e5,7e5,8e5,9e5,2e6,3e6,4e6,5e6,6e6,7e6,8e6,9e6,2e7,3e7,4e7,5e7,6e7,7e7,8e7,9e7,2e8,3e8,4e8,5e8,6e8,7e8,8e8,9e8,2e9,3e9,4e9,5e9,6e9,7e9,8e9,9e9],"tickSize":-11,"labels":false,"title":null}},
  "y":{"field":"e1","type":"quantitative","scale":{"type":"log","domain":[1.276e-16,0.01],"nice":false},"axis":null},
  "x2":{"field":"n2"},
  "y2":{"field":"e2"}
 }
},
{
 "data":{"name":"heads"},
 "mark":{"type":"point","shape":"M-1,0L1,-0.95L1,0.95Z","filled":true,"color":"#165a91","size":3800,"opacity":1,"clip":false},
 "encoding":{
  "x":{"field":"n","type":"quantitative","scale":{"type":"log","domain":[26853,1.198e10],"nice":false},
   "axis":{"orient":"top","values":[3e4,4e4,5e4,6e4,7e4,8e4,9e4,2e5,3e5,4e5,5e5,6e5,7e5,8e5,9e5,2e6,3e6,4e6,5e6,6e6,7e6,8e6,9e6,2e7,3e7,4e7,5e7,6e7,7e7,8e7,9e7,2e8,3e8,4e8,5e8,6e8,7e8,8e8,9e8,2e9,3e9,4e9,5e9,6e9,7e9,8e9,9e9],"tickSize":-11,"labels":false,"title":null}},
  "y":{"field":"e","type":"quantitative","scale":{"type":"log","domain":[1.276e-16,0.01],"nice":false},"axis":null},
  "angle":{"field":"a","type":"quantitative","scale":null}
 }
},
{
 "data":{"name":"txt"},
 "mark":{"type":"text","font":"Lato","fontSize":97,"align":"left","baseline":"alphabetic","color":"#000000","clip":false},
 "encoding":{
  "x":{"field":"n","type":"quantitative","scale":{"type":"log","domain":[26853,1.198e10],"nice":false},"axis":null},
  "y":{"field":"e","type":"quantitative","scale":{"type":"log","domain":[1.276e-16,0.01],"nice":false},"axis":null},
  "text":{"field":"t"}
 }
},
{
 "data":{"name":"nn"},
 "mark":{"type":"text","font":"Liberation Serif","fontStyle":"italic","fontSize":115,"align":"left","baseline":"alphabetic","color":"#000000","clip":false},
 "encoding":{
  "x":{"field":"n","type":"quantitative","scale":{"type":"log","domain":[26853,1.198e10],"nice":false},"axis":null},
  "y":{"field":"e","type":"quantitative","scale":{"type":"log","domain":[1.276e-16,0.01],"nice":false},"axis":null},
  "text":{"field":"t"}
 }
},
{
 "data":{"name":"sup"},
 "mark":{"type":"text","font":"Liberation Serif","fontSize":74,"align":"left","baseline":"alphabetic","color":"#000000","clip":false},
 "encoding":{
  "x":{"field":"n","type":"quantitative","scale":{"type":"log","domain":[26853,1.198e10],"nice":false},"axis":null},
  "y":{"field":"e","type":"quantitative","scale":{"type":"log","domain":[1.276e-16,0.01],"nice":false},"axis":null},
  "text":{"field":"t"}
 }
}
]
}
